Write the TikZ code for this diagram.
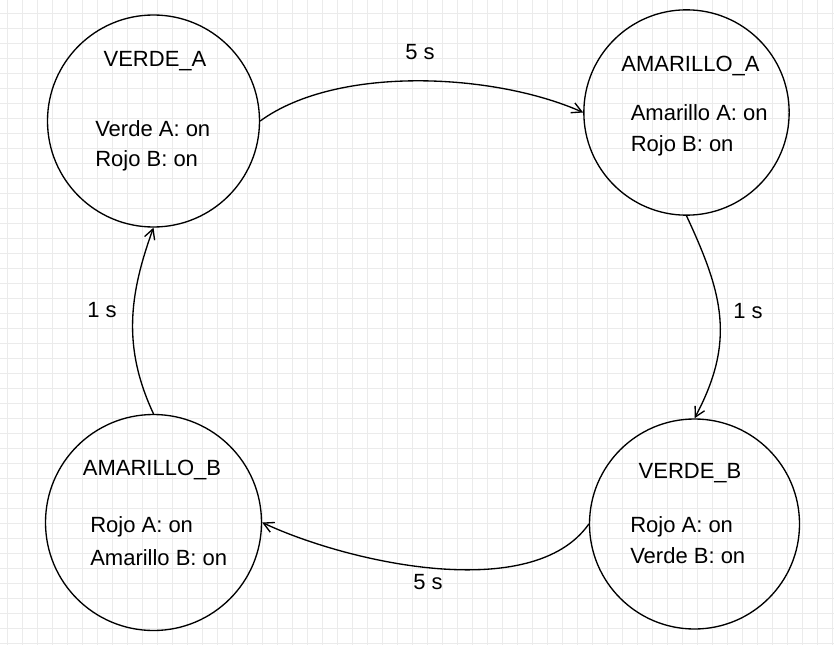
\documentclass[tikz,border=0pt]{standalone}
\usepackage{fontspec}
\setmainfont{Liberation Sans}
\usetikzlibrary{arrows.meta}

\begin{document}
\begin{tikzpicture}[line cap=round,line join=round,x=0.75pt,y=0.75pt,
    estado/.style={draw,circle,line width=1pt,inner sep=0pt},
    titulo/.style={anchor=base,inner sep=0pt,font=\fontsize{16.5}{16.5}\selectfont},
    linea/.style={anchor=base west,inner sep=0pt,font=\fontsize{16.5}{16.5}\selectfont},
    tiempo/.style={inner sep=0pt,font=\fontsize{16.5}{16.5}\selectfont},
    trans/.style={line width=1pt,-{Straight Barb[length=7.5pt,width=8pt]}},
    rejilla/.style={draw=black!8,line width=0.6pt}]
        \useasboundingbox (0,0) rectangle (834,-645);
        \fill[white] (0,0) rectangle (834,-645);
        % cuadricula de fondo
        \foreach \gx in {7,22,...,832} \draw[rejilla] (\gx,0) -- (\gx,-645);
        \foreach \gy in {13,28,...,643} \draw[rejilla] (0,-\gy) -- (834,-\gy);
        % estados
        \node[estado,minimum size=159pt] (va) at (153.5,-121) {};
        \node[estado,minimum size=154pt] (aa) at (686.5,-112.5) {};
        \node[estado,minimum size=157.5pt] (vb) at (694.5,-524) {};
        \node[estado,minimum size=162pt] (ab) at (153.5,-522.5) {};
        \node[titulo] (vat) at (155,-67) {VERDE\_A};
        \node[linea] (va1) at (95,-137) {Verde A: on};
        \node[linea] (va2) at (95,-167) {Rojo B: on};
        \node[titulo] (aat) at (690.5,-71.5) {AMARILLO\_A};
        \node[linea] (aa1) at (630.5,-120.5) {Amarillo A: on};
        \node[linea] (aa2) at (630.5,-151.5) {Rojo B: on};
        \node[titulo] (vbt) at (690,-478) {VERDE\_B};
        \node[linea] (vb1) at (630,-532) {Rojo A: on};
        \node[linea] (vb2) at (630,-563) {Verde B: on};
        \node[titulo] (abt) at (152,-475.5) {AMARILLO\_B};
        \node[linea] (ab1) at (90,-532.5) {Rojo A: on};
        \node[linea] (ab2) at (90,-565) {Amarillo B: on};
        % transiciones
        \draw[trans] (va.east) to[out=36,in=156,looseness=0.76] (aa.west);
        \draw[trans] (aa.south) to[out=-65,in=62,looseness=1.1] (vb.north);
        \draw[trans] (vb.west) to[out=-125,in=-25,looseness=0.76] (ab.east);
        \draw[trans] (ab.north) to[out=115,in=-110] (va.south);
        \node[tiempo] (t1) at (420,-52) {5 s};
        \node[tiempo] (t2) at (748,-311) {1 s};
        \node[tiempo] (t3) at (428,-582) {5 s};
        \node[tiempo] (t4) at (102,-310) {1 s};
\end{tikzpicture}
\end{document}
